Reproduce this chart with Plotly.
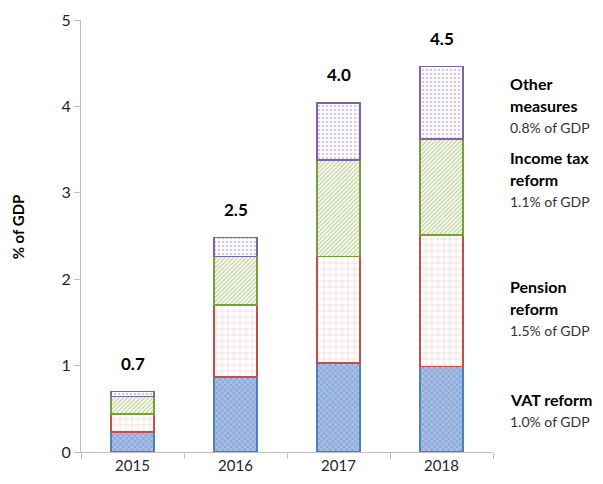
import plotly.graph_objects as go

# Data (% of GDP)
years = ['2015', '2016', '2017', '2018']
vat = [0.23, 0.87, 1.03, 0.99]
pension = [0.21, 0.83, 1.23, 1.52]
income_tax = [0.20, 0.56, 1.12, 1.11]
other = [0.06, 0.22, 0.66, 0.84]

series_names = ['VAT reform', 'Pension reform', 'Income tax reform', 'Other measures']
series_bold = [['VAT reform'], ['Pension', 'reform'], ['Income tax', 'reform'], ['Other', 'measures']]
series_share = ['1.0% of GDP', '1.5% of GDP', '1.1% of GDP', '0.8% of GDP']

totals = [a + b + c + d for a, b, c, d in zip(vat, pension, income_tax, other)]

FONT = 'Lato'

# top line of each right-hand label block, in axis units
label_top = [0.61, 1.91, 3.41, 4.27]
LINE_GAP = 22

styles = [
    dict(line='#4F81BD', bg='#A7BFE4', fg='#4F7BC4', shape='x', size=4, sol=0.35),
    dict(line='#C0504D', bg='#FFFFFF', fg='#DE8C8A', shape='+', size=6, sol=0.18),
    dict(line='#77A03C', bg='#FFFFFF', fg='#8DB04A', shape='/', size=3, sol=0.5),
    dict(line='#8064A2', bg='#FFFFFF', fg='#A893C8', shape='.', size=4, sol=0.35),
]

fig = go.Figure()
for name, vals, st in zip(series_names, [vat, pension, income_tax, other], styles):
    fig.add_trace(
        go.Bar(
            name=name,
            x=years,
            y=vals,
            width=0.42,
            marker=dict(
                color=st['bg'],
                line=dict(color=st['line'], width=1.5),
                pattern=dict(shape=st['shape'], fgcolor=st['fg'], bgcolor=st['bg'],
                             size=st['size'], solidity=st['sol'], fillmode='overlay'),
            ),
        )
    )

# Total labels above the bars
for i, tot in enumerate(totals):
    fig.add_annotation(
        x=i, y=tot, text='<b>{:.1f}</b>'.format(tot),
        showarrow=False, yanchor='bottom', yshift=16,
        font=dict(family=FONT, size=17, color='#000000'),
    )

# Series labels on the right, one annotation per line
for bold, share, ytop in zip(series_bold, series_share, label_top):
    lines = ['<b>{}</b>'.format(b) for b in bold] + [share]
    for k, txt in enumerate(lines):
        is_bold = k < len(bold)
        fig.add_annotation(
            xref='paper', x=1, xshift=15, xanchor='left',
            y=ytop, yref='y', yanchor='middle', yshift=-LINE_GAP * k,
            text=txt, align='left', showarrow=False,
            font=dict(family=FONT, size=16 if is_bold else 14,
                      color='#000000' if is_bold else '#333333'),
        )

# Y axis title
fig.add_annotation(
    xref='paper', x=0, xshift=-63, xanchor='center',
    yref='paper', y=0.52, yanchor='middle',
    text='<b>% of GDP</b>', textangle=-90, showarrow=False,
    font=dict(family=FONT, size=15, color='#000000'),
)

fig.update_xaxes(
    type='category', range=[-0.5, len(years) - 0.5],
    showline=True, linecolor='#BFBFBF', linewidth=1,
    ticks='outside', tickson='boundaries', ticklen=6, tickcolor='#BFBFBF',
    tickfont=dict(family=FONT, size=15, color='#262626'),
    showgrid=False, automargin=False,
)
fig.update_yaxes(
    range=[0, 5], dtick=1,
    showline=True, linecolor='#BFBFBF', linewidth=1,
    ticks='outside', ticklen=6, tickcolor='#BFBFBF',
    tickfont=dict(family=FONT, size=16, color='#262626'),
    showgrid=False, zeroline=False, automargin=False,
)
fig.update_layout(
    barmode='stack',
    paper_bgcolor='#FFFFFF',
    plot_bgcolor='#FFFFFF',
    width=595, height=476,
    margin=dict(l=73, r=110, t=12, b=32),
    showlegend=False,
)
fig.write_html('out.html')
